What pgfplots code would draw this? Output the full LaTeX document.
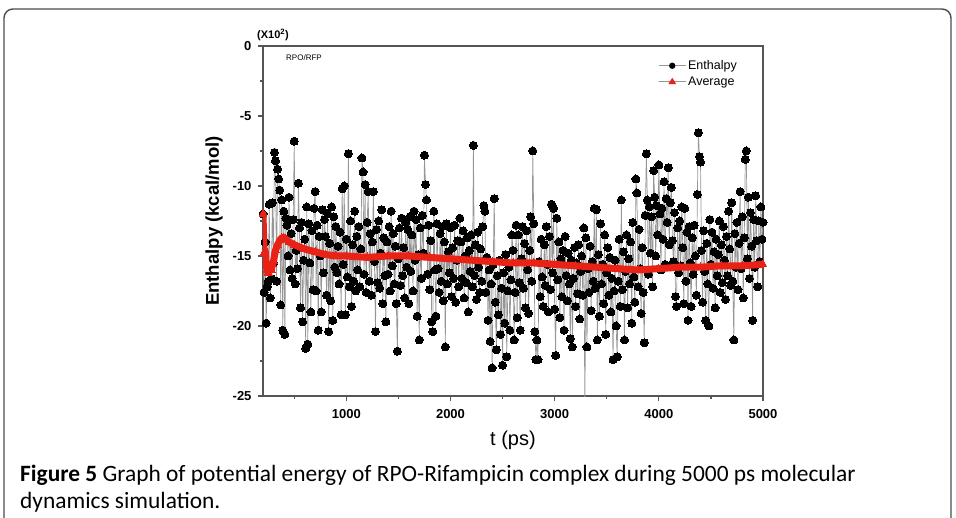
\documentclass[border=0pt]{standalone}
\usepackage{pgfplots}
\pgfplotsset{compat=1.18}
\usepackage{fontspec}
\setmainfont{Liberation Sans}
\newfontfamily\capfont{Carlito}
\definecolor{avgred}{RGB}{234,34,22}
\definecolor{axgray}{RGB}{85,85,85}
\definecolor{linegray}{RGB}{150,150,150}
\begin{document}
\begin{tikzpicture}
\useasboundingbox (0pt,0pt) rectangle (956pt,517pt);
\begin{scope}
\clip (0pt,0pt) rectangle (956pt,517pt);
\draw[line width=1.4pt, draw=black!70, rounded corners=9pt] (4pt,-20pt) -- (4pt,508pt) -- (951pt,508pt) -- (951pt,-20pt);
\end{scope}
\begin{axis}[
  at={(263pt,121pt)}, anchor=south west,
  scale only axis, width=500pt, height=350pt,
  xmin=200, xmax=5000, ymin=-25, ymax=0,
  xtick={1000,2000,3000,4000,5000},
  minor xtick={500,1500,2500,3500,4500},
  ytick={-25,-20,-15,-10,-5,0},
  minor ytick={-22.5,-17.5,-12.5,-7.5,-2.5},
  tick align=outside, xtick pos=bottom, ytick pos=left,
  major tick length=5pt, minor tick length=3pt,
  axis line style={axgray, line width=1.5pt},
  every tick/.style={axgray, line width=1.2pt},
  /pgf/number format/assume math mode=true,
  /pgf/number format/set thousands separator={},
  ticklabel style={font=\bfseries\fontsize{13}{15}\selectfont},
  xticklabel style={yshift=-5pt},
  yticklabel style={xshift=-3pt},
  every axis y label/.style={at={(axis description cs:-0.098,0.5)}, rotate=90, anchor=center, font=\bfseries\fontsize{18.5}{20}\selectfont},
  every axis x label/.style={at={(axis description cs:0.5,-0.128)}, anchor=center, font=\fontsize{20}{22}\selectfont},
  ylabel={Enthalpy (kcal/mol)},
  xlabel={t (ps)},
  clip=true, clip mode=individual,
  legend style={at={(axis description cs:0.952,0.965)}, anchor=north east, draw=none, fill=none,
    font=\fontsize{12.5}{14}\selectfont, row sep=1.5pt, inner sep=0pt},
  legend cell align=left,
]
\addplot[color=linegray, line width=0.7pt, mark=*, mark size=4pt, mark options={draw=black, fill=black, line width=0pt},
  legend image code/.code={\draw[linegray, line width=0.8pt] (0pt,0pt) -- (27pt,0pt); \path[fill=black, draw=none] (13.5pt,0pt) circle (3.2pt);}]
coordinates {
(200,-12.0) (210,-17.6) (220,-14.0) (230,-19.8) (240,-17.2) (250,-16.8) (260,-11.3) (270,-18.0) (280,-16.6) (290,-11.2)
(300,-15.5) (310,-7.6) (320,-8.2) (330,-16.8) (340,-8.8) (350,-9.5) (360,-10.3) (370,-18.5) (380,-11.0) (390,-20.3)
(400,-11.8) (410,-20.6) (420,-12.3) (430,-12.8) (440,-15.0) (450,-10.8) (460,-16.0) (470,-13.4) (480,-16.6) (490,-12.4)
(500,-6.8) (510,-17.0) (520,-14.6) (530,-15.9) (540,-9.8) (550,-13.0) (560,-18.7) (570,-12.6) (580,-19.7) (590,-15.3)
(600,-13.8) (610,-21.6) (620,-11.5) (630,-21.3) (640,-12.7) (650,-15.5) (660,-19.0) (670,-13.2) (680,-17.4) (690,-11.6)
(700,-10.4) (710,-17.5) (720,-12.8) (730,-20.3) (740,-13.6) (750,-15.0) (760,-19.0) (770,-11.7) (780,-16.2) (790,-12.4)
(800,-13.6) (810,-17.8) (820,-12.0) (830,-20.4) (840,-14.1) (850,-18.2) (860,-11.5) (870,-19.6) (880,-12.2) (890,-15.8)
(900,-12.9) (910,-16.2) (920,-14.3) (930,-17.0) (940,-13.3) (950,-19.2) (960,-10.2) (970,-15.6) (980,-10.0) (990,-19.2)
(1000,-13.8) (1010,-16.5) (1020,-7.7) (1030,-17.2) (1040,-12.5) (1050,-18.6) (1060,-14.2) (1070,-16.8) (1080,-11.8) (1090,-17.5)
(1100,-13.6) (1110,-16.0) (1120,-12.9) (1130,-17.2) (1140,-14.5) (1150,-8.0) (1160,-9.0) (1170,-16.3) (1180,-9.9) (1190,-17.6)
(1200,-12.6) (1210,-10.4) (1220,-16.8) (1230,-13.4) (1240,-17.8) (1250,-14.0) (1260,-10.4) (1270,-15.4) (1280,-20.4) (1290,-13.1)
(1300,-16.9) (1310,-12.5) (1320,-17.3) (1330,-14.8) (1340,-11.7) (1350,-18.4) (1360,-13.7) (1370,-16.4) (1380,-19.7) (1390,-14.0)
(1400,-16.3) (1410,-12.9) (1420,-17.5) (1430,-11.8) (1440,-15.7) (1450,-13.4) (1460,-17.0) (1470,-14.3) (1480,-18.4) (1490,-21.8)
(1500,-15.2) (1510,-13.0) (1520,-17.1) (1530,-12.3) (1540,-16.4) (1550,-14.4) (1560,-18.0) (1570,-12.6) (1580,-15.8) (1590,-13.1)
(1600,-18.4) (1610,-12.2) (1620,-16.1) (1630,-13.5) (1640,-17.5) (1650,-11.8) (1660,-15.3) (1670,-12.4) (1680,-19.3) (1690,-14.9)
(1700,-21.0) (1710,-13.0) (1720,-16.6) (1730,-12.1) (1740,-14.8) (1750,-7.8) (1760,-9.9) (1770,-11.0) (1780,-16.3) (1790,-12.8)
(1800,-17.4) (1810,-13.9) (1820,-19.7) (1830,-20.4) (1840,-11.8) (1850,-16.0) (1860,-19.3) (1870,-12.7) (1880,-15.9) (1890,-17.6)
(1900,-13.4) (1910,-16.8) (1920,-12.9) (1930,-18.2) (1940,-14.0) (1950,-21.5) (1960,-12.7) (1970,-17.0) (1980,-14.7) (1990,-16.2)
(2000,-13.0) (2010,-17.9) (2020,-14.4) (2030,-16.6) (2040,-12.8) (2050,-18.3) (2060,-15.3) (2070,-13.9) (2080,-17.2) (2090,-12.3)
(2100,-14.0) (2110,-16.6) (2120,-13.2) (2130,-18.0) (2140,-15.0) (2150,-16.9) (2160,-13.7) (2170,-19.0) (2180,-14.6) (2190,-16.1)
(2200,-13.5) (2210,-17.2) (2220,-7.1) (2230,-16.4) (2240,-14.2) (2250,-18.1) (2260,-13.3) (2270,-15.8) (2280,-17.6) (2290,-14.5)
(2300,-16.8) (2310,-12.9) (2320,-11.4) (2330,-11.8) (2340,-17.6) (2350,-15.1) (2360,-19.6) (2370,-16.0) (2380,-21.1) (2390,-17.0)
(2400,-23.0) (2410,-15.6) (2420,-10.9) (2430,-18.3) (2440,-21.7) (2450,-16.4) (2460,-19.2) (2470,-15.3) (2480,-20.6) (2490,-17.3)
(2500,-22.8) (2510,-16.2) (2520,-19.8) (2530,-14.9) (2540,-22.2) (2550,-17.5) (2560,-15.8) (2570,-20.3) (2580,-16.7) (2590,-13.5)
(2600,-14.6) (2610,-21.0) (2620,-17.6) (2630,-12.8) (2640,-19.4) (2650,-13.5) (2660,-16.9) (2670,-20.3) (2680,-15.2) (2690,-12.9)
(2700,-17.3) (2710,-14.1) (2720,-18.7) (2730,-13.2) (2740,-16.0) (2750,-19.1) (2760,-14.6) (2770,-12.2) (2780,-16.8) (2790,-7.5)
(2800,-12.7) (2810,-20.4) (2820,-22.4) (2830,-21.0) (2840,-22.4) (2850,-15.4) (2860,-17.9) (2870,-13.8) (2880,-16.5) (2890,-18.6)
(2900,-14.2) (2910,-17.1) (2920,-12.9) (2930,-15.6) (2940,-19.0) (2950,-13.6) (2960,-17.4) (2970,-11.3) (2980,-16.2) (2990,-11.6)
(3000,-18.8) (3010,-22.1) (3020,-12.3) (3030,-16.7) (3040,-14.0) (3050,-19.4) (3060,-15.2) (3070,-17.9) (3080,-14.6) (3090,-20.3)
(3100,-13.6) (3110,-16.4) (3120,-18.2) (3130,-14.8) (3140,-17.0) (3150,-20.9) (3160,-15.3) (3170,-21.5) (3180,-16.6) (3190,-14.4)
(3200,-18.6) (3210,-15.5) (3220,-17.7) (3230,-14.2) (3240,-19.5) (3250,-16.1) (3260,-15.0) (3270,-17.8) (3280,-13.0) (3290,-26.5)
(3300,-13.7) (3310,-21.5) (3320,-15.9) (3330,-17.6) (3340,-14.3) (3350,-18.9) (3360,-15.4) (3370,-16.8) (3380,-11.6) (3390,-17.3)
(3400,-11.7) (3410,-21.0) (3420,-14.9) (3430,-19.3) (3440,-12.7) (3450,-17.0) (3460,-15.6) (3470,-18.4) (3480,-13.5) (3490,-20.6)
(3500,-16.2) (3510,-14.4) (3520,-17.8) (3530,-15.1) (3540,-19.0) (3550,-16.6) (3560,-22.4) (3570,-17.5) (3580,-15.3) (3590,-20.0)
(3600,-22.2) (3610,-16.8) (3620,-13.8) (3630,-18.6) (3640,-11.0) (3650,-17.4) (3660,-14.7) (3670,-21.0) (3680,-16.1) (3690,-13.5)
(3700,-18.7) (3710,-15.2) (3720,-17.0) (3730,-14.0) (3740,-19.8) (3750,-12.6) (3760,-16.5) (3770,-18.3) (3780,-9.5) (3790,-10.5)
(3800,-17.2) (3810,-13.1) (3820,-15.9) (3830,-19.1) (3840,-14.4) (3850,-17.6) (3860,-21.2) (3870,-12.1) (3880,-7.7) (3890,-11.0)
(3900,-16.3) (3910,-11.5) (3920,-14.8) (3930,-12.2) (3940,-17.2) (3950,-8.9) (3960,-10.8) (3970,-15.0) (3980,-11.4) (3990,-13.5)
(4000,-8.5) (4010,-12.0) (4020,-16.0) (4030,-11.6) (4040,-13.8) (4050,-9.7) (4060,-15.6) (4070,-10.9) (4080,-12.6) (4090,-8.7)
(4100,-14.2) (4110,-11.2) (4120,-10.1) (4130,-13.9) (4140,-15.4) (4150,-11.9) (4160,-17.9) (4170,-18.6) (4180,-13.0) (4190,-16.2)
(4200,-12.5) (4210,-15.7) (4220,-11.5) (4230,-14.4) (4240,-18.4) (4250,-11.6) (4260,-16.8) (4270,-13.3) (4280,-19.6) (4290,-12.9)
(4300,-15.5) (4310,-18.6) (4320,-13.7) (4330,-16.3) (4340,-12.8) (4350,-15.0) (4360,-17.8) (4370,-10.6) (4380,-6.2) (4390,-7.9)
(4400,-8.3) (4410,-14.6) (4420,-18.3) (4430,-13.2) (4440,-16.1) (4450,-19.6) (4460,-14.1) (4470,-17.0) (4480,-20.0) (4490,-12.4)
(4500,-15.6) (4510,-13.3) (4520,-17.3) (4530,-14.7) (4540,-18.7) (4550,-13.8) (4560,-16.4) (4570,-14.9) (4580,-12.5) (4590,-17.6)
(4600,-14.2) (4610,-16.9) (4620,-12.9) (4630,-15.3) (4640,-18.1) (4650,-13.6) (4660,-16.4) (4670,-11.8) (4680,-14.5) (4690,-17.1)
(4700,-11.2) (4710,-16.8) (4720,-21.0) (4730,-13.4) (4740,-15.8) (4750,-12.6) (4760,-17.4) (4770,-14.1) (4780,-10.4) (4790,-15.9)
(4800,-12.2) (4810,-18.0) (4820,-13.7) (4830,-8.1) (4840,-7.5) (4850,-15.2) (4860,-10.8) (4870,-16.6) (4880,-11.9) (4890,-14.3)
(4900,-19.6) (4910,-12.4) (4920,-15.8) (4930,-10.7) (4940,-13.9) (4950,-17.2) (4960,-12.5) (4970,-15.4) (4980,-11.5) (4990,-13.8)
(5000,-12.6)
};
\addlegendentry{Enthalpy}
\addplot[color=avgred, line width=7pt, line join=round, line cap=round, mark=triangle*, mark size=4.5pt, mark options={fill=avgred, draw=avgred, line width=0pt},
  legend image code/.code={\draw[linegray, line width=0.8pt] (0pt,0pt) -- (27pt,0pt); \path[fill=avgred, draw=none, line width=0pt] (13.5pt,3.8pt) -- (9.5pt,-2.6pt) -- (17.5pt,-2.6pt) -- cycle;}]
coordinates {
(200,-12.0) (210,-14.8) (220,-14.6) (230,-15.6) (240,-16.0) (250,-16.2) (260,-15.7) (270,-15.9) (280,-16.0) (290,-15.6)
(300,-15.4) (320,-14.6) (340,-14.2) (360,-13.9) (380,-13.7) (400,-13.7) (420,-13.8) (450,-14.0) (500,-14.2) (600,-14.5)
(700,-14.7) (800,-14.9) (900,-15.0) (1000,-15.0) (1200,-15.1) (1400,-15.0) (1600,-15.0) (1800,-15.1) (2000,-15.2) (2200,-15.3)
(2400,-15.4) (2600,-15.5) (2800,-15.5) (3000,-15.6) (3200,-15.7) (3400,-15.8) (3600,-15.9) (3800,-16.0) (4000,-15.9) (4200,-15.8)
(4400,-15.8) (4600,-15.7) (4800,-15.7) (5000,-15.6)
};
\addlegendentry{Average}
\node[anchor=center, font=\bfseries\fontsize{11}{12}\selectfont] at (axis description cs:0.02,1.032) {(X10\textsuperscript{2})};
\node[anchor=center, font=\fontsize{8}{9}\selectfont] at (axis description cs:0.082,0.968) {RPO/RFP};
\end{axis}
\node[anchor=base west, inner sep=0pt, font=\capfont\fontsize{23.4}{27}\selectfont] at (20pt,36pt) {\textbf{Figure 5} Graph of potential energy of RPO-Rifampicin complex during 5000 ps molecular};
\node[anchor=base west, inner sep=0pt, font=\capfont\fontsize{23.4}{27}\selectfont] at (20pt,9pt) {dynamics simulation.};
\end{tikzpicture}
\end{document}
